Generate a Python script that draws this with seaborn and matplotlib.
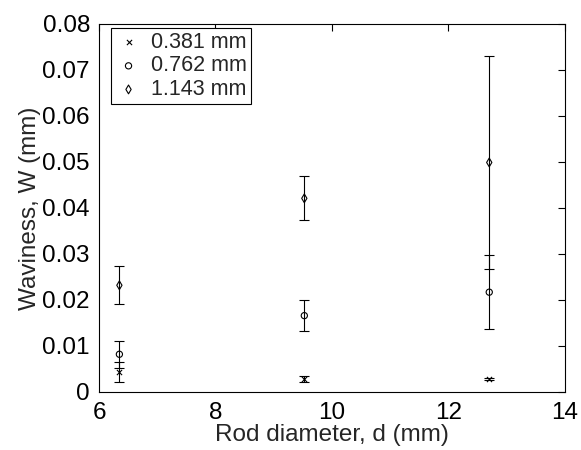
import numpy as np
import pandas as pd
import matplotlib
matplotlib.use('Agg')
import matplotlib.pyplot as plt
import seaborn as sns

# Rod diameters (mm) and measured waviness (mm) with error bars
diameters = [6.35, 9.525, 12.7]
w_0381 = [0.0044, 0.0028, 0.0028]
e_0381 = [0.0022, 0.0006, 0.0002]
w_0762 = [0.0082, 0.0166, 0.0217]
e_0762 = [0.0029, 0.0033, 0.0080]
w_1143 = [0.0232, 0.0421, 0.0499]
e_1143 = [0.0041, 0.0048, 0.0231]
series_labels = ['0.381 mm', '0.762 mm', '1.143 mm']

x_ticks = [6, 8, 10, 12, 14]
y_ticks = [0, 0.01, 0.02, 0.03, 0.04, 0.05, 0.06, 0.07, 0.08]
y_ticklabels = ['0', '0.01', '0.02', '0.03', '0.04', '0.05', '0.06', '0.07', '0.08']

sns.set_theme(style='white')
plt.rcParams['font.family'] = ['Liberation Sans', 'DejaVu Sans']

fig = plt.figure(figsize=(5.81, 4.5), dpi=100)
ax = fig.add_axes([0.1704, 0.1289, 0.802, 0.8178])

values = [w_0381, w_0762, w_1143]
errors = [e_0381, e_0762, e_1143]
markers = ['x', 'o', 'd']
sizes = [14, 20, 20]

for vals, errs, mk, sz, lab in zip(values, errors, markers, sizes, series_labels):
    df = pd.DataFrame({'d': diameters, 'w': vals})
    ax.errorbar(df['d'], df['w'], yerr=errs, fmt='none', ecolor='black',
                elinewidth=0.8, capsize=3.8, capthick=0.8, zorder=2)
    sns.scatterplot(data=df, x='d', y='w', marker=mk, s=sz, color='black',
                    linewidth=0.8, label=lab, ax=ax, zorder=3)

# hollow markers like the original
for coll in ax.collections:
    if coll.get_label() in series_labels[1:]:
        coll.set_facecolor('none')
        coll.set_edgecolor('black')

ax.set_xlim(6, 14)
ax.set_ylim(0, 0.08)
ax.set_xticks(x_ticks)
ax.set_xticklabels([str(t) for t in x_ticks])
ax.set_yticks(y_ticks)
ax.set_yticklabels(y_ticklabels)
ax.tick_params(direction='in', length=5, width=0.8, labelsize=17.5, colors='black',
               top=True, right=True)
ax.tick_params(axis='x', pad=7.5)
ax.tick_params(axis='y', pad=6.5)
for sp in ax.spines.values():
    sp.set_color('black')
    sp.set_linewidth(0.8)

ax.set_xlabel('Rod diameter, d (mm)', fontsize=17.5, labelpad=0)
ax.set_ylabel('Waviness, W (mm)', fontsize=17.5, labelpad=1)

leg = ax.legend(loc='upper left', bbox_to_anchor=(0.025, 0.989), fontsize=15.5,
                frameon=True, fancybox=False, edgecolor='black', framealpha=1,
                borderaxespad=0, handletextpad=0.4, labelspacing=0.12,
                borderpad=0.18, handlelength=1.3)
leg.get_frame().set_linewidth(0.8)

fig.savefig('out.png', dpi=100)
